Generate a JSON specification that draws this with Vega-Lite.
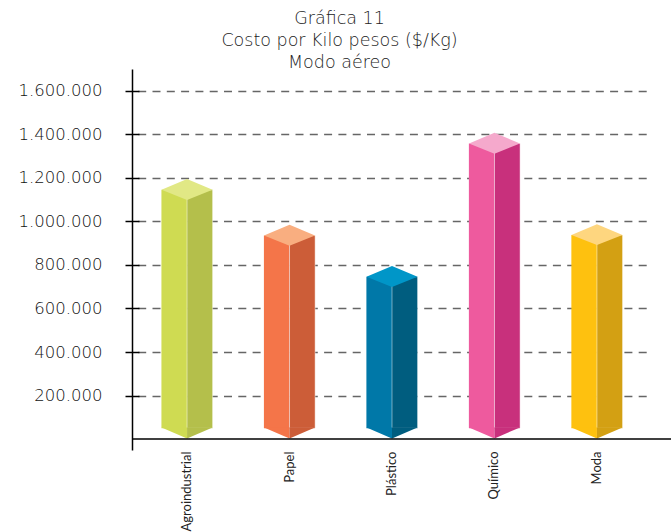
{
  "$schema": "https://vega.github.io/schema/vega-lite/v6.json",
  "width": 539,
  "height": 381,
  "autosize": {"type": "none"},
  "padding": {"left": 132, "top": 69, "right": 0, "bottom": 82},
  "background": "#ffffff",
  "title": {
    "text": ["Gráfica 11", "Costo por Kilo pesos ($/Kg)", "Modo aéreo"],
    "font": "DejaVu Sans", "fontSize": 17.5, "fontWeight": 200, "color": "#222222",
    "lineHeight": 22, "anchor": "middle", "frame": "group", "dx": -62, "offset": -2
  },
  "data": {"values": [
    {"cat": "Agroindustrial", "valor": 1145000},
    {"cat": "Papel", "valor": 935000},
    {"cat": "Plástico", "valor": 746000},
    {"cat": "Químico", "valor": 1358000},
    {"cat": "Moda", "valor": 938000}
  ]},
  "layer": [
    {
      "mark": {"type": "bar", "width": 25.6, "xOffset": -12.8},
      "encoding": {
        "x": {"field": "cat", "type": "nominal", "sort": null,
          "scale": {"type": "band", "domain": ["Agroindustrial", "Papel", "Plástico", "Químico", "Moda"], "range": [0, 520], "paddingInner": 0.5, "paddingOuter": 0.287},
          "axis": {"orient": "bottom", "labelAngle": -90, "domain": false, "ticks": false, "labelPadding": 1, "labelFont": "Lato", "labelFontWeight": "normal", "labelFontSize": 13, "labelColor": "#222222", "title": null}},
        "y": {"field": "valor", "type": "quantitative",
          "scale": {"domain": [-50000, 1700000], "nice": false, "zero": false},
          "axis": {"orient": "left", "values": [200000, 400000, 600000, 800000, 1000000, 1200000, 1400000, 1600000],
            "labelExpr": "join(split(format(datum.value, ',d'), ','), '.')",
            "grid": true, "gridDash": [8, 6.3], "gridDashOffset": 8.6, "gridColor": "#666666", "gridWidth": 1.3,
            "domainColor": "#000000", "domainWidth": 1.5, "tickColor": "#000000", "tickWidth": 1.5, "tickSize": 7,
            "labelFont": "DejaVu Sans", "labelFontWeight": 200, "labelFontSize": 16.5, "labelColor": "#111111", "labelPadding": 23, "title": null}},
        "y2": {"datum": 50000},
        "color": {"field": "cat", "type": "nominal", "legend": null,
          "scale": {"domain": ["Agroindustrial", "Papel", "Plástico", "Químico", "Moda"], "range": ["#cfdb52", "#f47549", "#0078a8", "#ee5a9e", "#fec10f"]}}
      }
    },
    {
      "mark": {"type": "bar", "width": 25.6, "xOffset": 12.8, "stroke": "#ffffff", "strokeOpacity": 0.45, "strokeWidth": 1},
      "encoding": {
        "x": {"field": "cat", "type": "nominal", "sort": null,
          "scale": {"type": "band", "domain": ["Agroindustrial", "Papel", "Plástico", "Químico", "Moda"], "range": [0, 520], "paddingInner": 0.5, "paddingOuter": 0.287},
          "axis": {"orient": "bottom", "labelAngle": -90, "domain": false, "ticks": false, "labelPadding": 1, "labelFont": "Lato", "labelFontWeight": "normal", "labelFontSize": 13, "labelColor": "#222222", "title": null}},
        "y": {"field": "valor", "type": "quantitative",
          "scale": {"domain": [-50000, 1700000], "nice": false, "zero": false},
          "axis": {"orient": "left", "offset": -7, "values": [200000, 400000, 600000, 800000, 1000000, 1200000, 1400000, 1600000],
            "labels": false, "domain": false, "grid": false, "tickSize": 7, "tickColor": "#000000", "tickWidth": 1.5, "title": null}},
        "y2": {"datum": 50000},
        "color": {"field": "cat", "type": "nominal", "legend": null,
          "scale": {"domain": ["Agroindustrial", "Papel", "Plástico", "Químico", "Moda"], "range": ["#b4bf4b", "#cc5d38", "#005d7f", "#c8307c", "#d3a013"]}}
      }
    },
    {
      "mark": {"type": "point", "shape": "M-1,0L0,-0.42L1,0L0,0.4Z", "size": 2601, "filled": true, "opacity": 1, "strokeWidth": 0},
      "encoding": {
        "x": {"field": "cat", "type": "nominal", "sort": null,
          "scale": {"type": "band", "domain": ["Agroindustrial", "Papel", "Plástico", "Químico", "Moda"], "range": [0, 520], "paddingInner": 0.5, "paddingOuter": 0.287},
          "axis": {"orient": "bottom", "labelAngle": -90, "domain": false, "ticks": false, "labelPadding": 1, "labelFont": "Lato", "labelFontWeight": "normal", "labelFontSize": 13, "labelColor": "#222222", "title": null}},
        "y": {"field": "valor", "type": "quantitative",
          "scale": {"domain": [-50000, 1700000], "nice": false, "zero": false}, "axis": null},
        "color": {"field": "cat", "type": "nominal", "legend": null,
          "scale": {"domain": ["Agroindustrial", "Papel", "Plástico", "Químico", "Moda"], "range": ["#e1e885", "#f9ae80", "#0096c8", "#f5a9cc", "#fed67f"]}}
      }
    },
    {
      "mark": {"type": "point", "shape": "M-1,-0.03L0,-0.03L0,0.4Z", "size": 2601, "filled": true, "opacity": 1, "strokeWidth": 0},
      "encoding": {
        "x": {"field": "cat", "type": "nominal", "sort": null,
          "scale": {"type": "band", "domain": ["Agroindustrial", "Papel", "Plástico", "Químico", "Moda"], "range": [0, 520], "paddingInner": 0.5, "paddingOuter": 0.287},
          "axis": {"orient": "bottom", "labelAngle": -90, "domain": false, "ticks": false, "labelPadding": 1, "labelFont": "Lato", "labelFontWeight": "normal", "labelFontSize": 13, "labelColor": "#222222", "title": null}},
        "y": {"datum": 50000, "type": "quantitative",
          "scale": {"domain": [-50000, 1700000], "nice": false, "zero": false}, "axis": null},
        "color": {"field": "cat", "type": "nominal", "legend": null,
          "scale": {"domain": ["Agroindustrial", "Papel", "Plástico", "Químico", "Moda"], "range": ["#cfdb52", "#f47549", "#0078a8", "#ee5a9e", "#fec10f"]}}
      }
    },
    {
      "mark": {"type": "point", "shape": "M0,-0.03L1,-0.03L0,0.4Z", "size": 2601, "filled": true, "opacity": 1, "strokeWidth": 0},
      "encoding": {
        "x": {"field": "cat", "type": "nominal", "sort": null,
          "scale": {"type": "band", "domain": ["Agroindustrial", "Papel", "Plástico", "Químico", "Moda"], "range": [0, 520], "paddingInner": 0.5, "paddingOuter": 0.287},
          "axis": {"orient": "bottom", "labelAngle": -90, "domain": false, "ticks": false, "labelPadding": 1, "labelFont": "Lato", "labelFontWeight": "normal", "labelFontSize": 13, "labelColor": "#222222", "title": null}},
        "y": {"datum": 50000, "type": "quantitative",
          "scale": {"domain": [-50000, 1700000], "nice": false, "zero": false}, "axis": null},
        "color": {"field": "cat", "type": "nominal", "legend": null,
          "scale": {"domain": ["Agroindustrial", "Papel", "Plástico", "Químico", "Moda"], "range": ["#b4bf4b", "#cc5d38", "#005d7f", "#c8307c", "#d3a013"]}}
      }
    },
    {
      "data": {"values": [{}]},
      "mark": {"type": "rule", "color": "#000000", "strokeWidth": 1.5},
      "encoding": {
        "y": {"datum": 0, "type": "quantitative",
          "scale": {"domain": [-50000, 1700000], "nice": false, "zero": false}, "axis": null}
      }
    }
  ],
  "resolve": {"scale": {"color": "independent"}, "axis": {"y": "independent"}},
  "config": {
    "view": {"stroke": null}
  }
}
